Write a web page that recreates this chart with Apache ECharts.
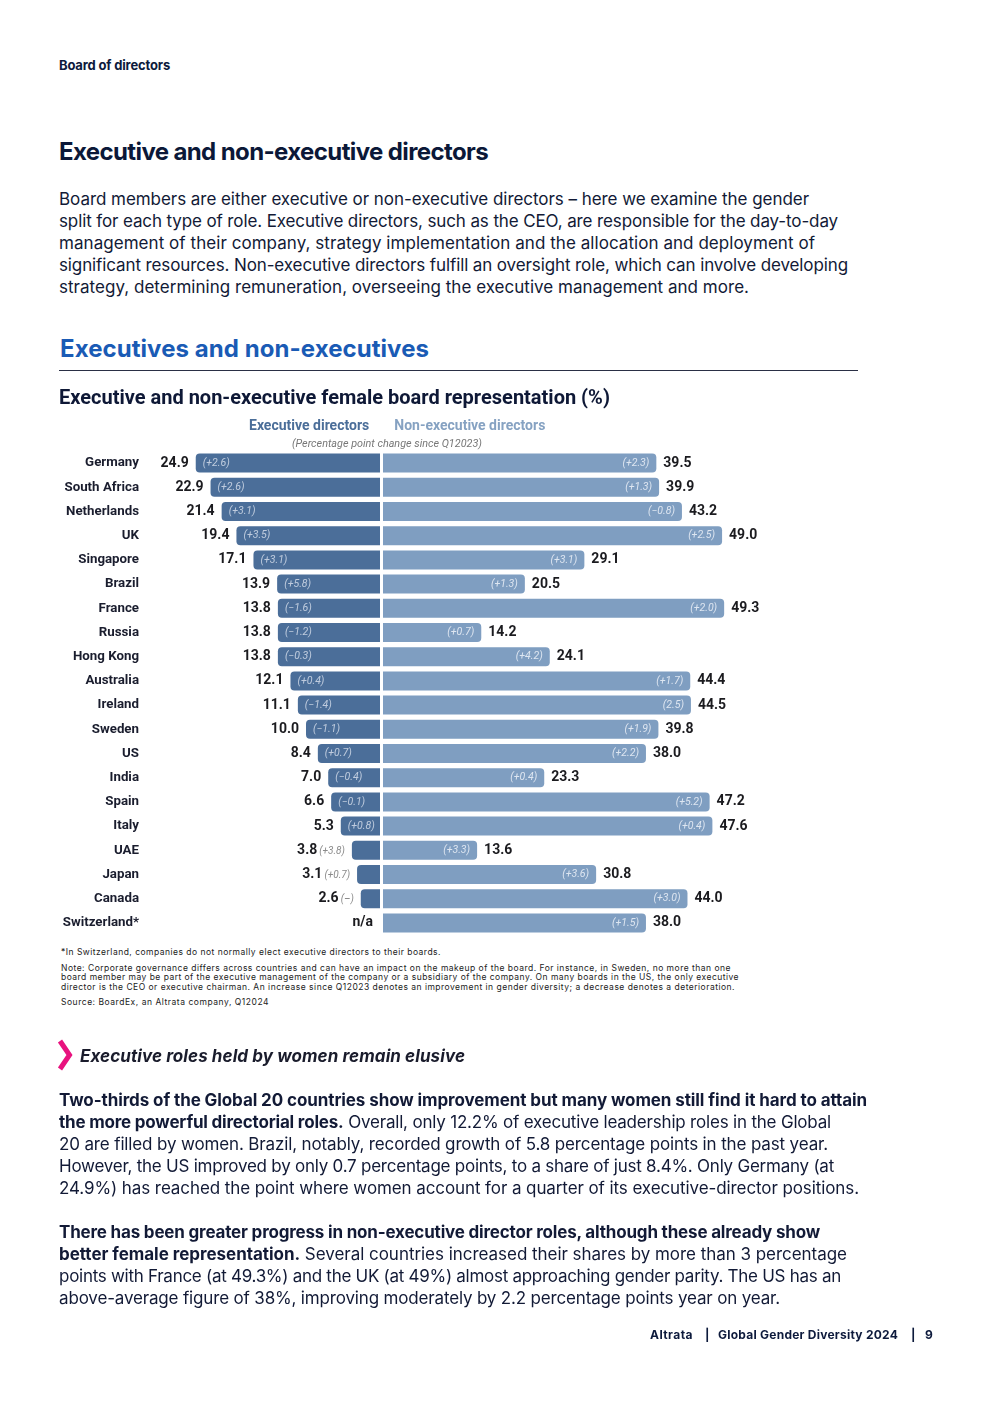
<!DOCTYPE html>
<html><head><meta charset="utf-8">
<script src="https://cdn.jsdelivr.net/npm/echarts@6/dist/echarts.min.js"></script>
<style>
html,body{margin:0;padding:0;background:#fff;}
#page{position:relative;width:992px;height:1403px;overflow:hidden;font-family:Inter,Roboto,'Noto Sans',sans-serif;color:#121a36;}
.t{position:absolute;white-space:nowrap;display:inline-block;}
#chart{position:absolute;left:0;top:380px;width:992px;height:565px;}
</style></head><body><div id="page">

<div class="t" data-x="59" data-y="65" data-w="111" data-s="13" style="font-weight:700;color:#0d1a3c">Board of directors</div>
<div class="t" data-x="59" data-y="152" data-w="429" data-s="24" style="font-weight:700;color:#0b1838">Executive and non-executive directors</div>

<div class="t" data-x="59" data-y="200" data-w="750" data-s="17">Board members are either executive or non-executive directors – here we examine the gender</div>
<div class="t" data-x="59" data-y="222" data-w="779" data-s="17">split for each type of role. Executive directors, such as the CEO, are responsible for the day-to-day</div>
<div class="t" data-x="59" data-y="244" data-w="756" data-s="17">management of their company, strategy implementation and the allocation and deployment of</div>
<div class="t" data-x="59" data-y="266" data-w="789" data-s="17">significant resources. Non-executive directors fulfill an oversight role, which can involve developing</div>
<div class="t" data-x="59" data-y="288" data-w="690" data-s="17">strategy, determining remuneration, overseeing the executive management and more.</div>

<div class="t" data-x="60" data-y="349" data-w="369" data-s="24" style="font-weight:700;color:#1a5bb5">Executives and non-executives</div>
<div style="position:absolute;left:59px;top:370px;width:799px;height:1px;background:#2a2f45"></div>

<div id="chart"></div>

<div class="t" data-x="61" data-y="952" data-w="380" data-s="8.5" style="color:#222">*In Switzerland, companies do not normally elect executive directors to their boards.</div>
<div class="t" data-x="61" data-y="968" data-w="670" data-s="8.5" style="color:#222">Note: Corporate governance differs across countries and can have an impact on the makeup of the board. For instance, in Sweden, no more than one</div>
<div class="t" data-x="61" data-y="977.5" data-w="678" data-s="8.5" style="color:#222">board member may be part of the executive management of the company or a subsidiary of the company. On many boards in the US, the only executive</div>
<div class="t" data-x="61" data-y="987" data-w="674" data-s="8.5" style="color:#222">director is the CEO or executive chairman. An increase since Q12023 denotes an improvement in gender diversity; a decrease denotes a deterioration.</div>
<div class="t" data-x="61" data-y="1002" data-w="208" data-s="8.5" style="color:#222">Source: BoardEx, an Altrata company, Q12024</div>

<svg style="position:absolute;left:0;top:0" width="992" height="1403"><polyline points="60,1041 69.5,1055 60,1069" fill="none" stroke="#e8137f" stroke-width="5"/></svg>
<div class="t" data-x="80" data-y="1057" data-w="385" data-s="17" style="font-weight:700;font-style:italic;color:#1a1c2c">Executive roles held by women remain elusive</div>

<div class="t" data-x="59" data-y="1101" data-w="808" data-s="17"><b>Two-thirds of the Global 20 countries show improvement but many women still find it hard to attain</b></div>
<div class="t" data-x="59" data-y="1123" data-w="772" data-s="17"><b>the more powerful directorial roles.</b> Overall, only 12.2% of executive leadership roles in the Global</div>
<div class="t" data-x="59" data-y="1145" data-w="769" data-s="17">20 are filled by women. Brazil, notably, recorded growth of 5.8 percentage points in the past year.</div>
<div class="t" data-x="59" data-y="1167" data-w="775" data-s="17">However, the US improved by only 0.7 percentage points, to a share of just 8.4%. Only Germany (at</div>
<div class="t" data-x="59" data-y="1189" data-w="800" data-s="17">24.9%) has reached the point where women account for a quarter of its executive-director positions.</div>

<div class="t" data-x="59" data-y="1233" data-w="761" data-s="17"><b>There has been greater progress in non-executive director roles, although these already show</b></div>
<div class="t" data-x="59" data-y="1255" data-w="788" data-s="17"><b>better female representation.</b> Several countries increased their shares by more than 3 percentage</div>
<div class="t" data-x="59" data-y="1277" data-w="782" data-s="17">points with France (at 49.3%) and the UK (at 49%) almost approaching gender parity. The US has an</div>
<div class="t" data-x="59" data-y="1299" data-w="721" data-s="17">above-average figure of 38%, improving moderately by 2.2 percentage points year on year.</div>

<div class="t" data-x="650" data-y="1334" data-w="43" data-s="12" style="font-weight:700;color:#0d1a3c">Altrata</div>
<div class="t" data-x="705" data-y="1334" data-s="12" style="font-weight:700;color:#0d1a3c">|</div>
<div class="t" data-x="718" data-y="1334" data-w="180" data-s="12" style="font-weight:700;color:#0d1a3c">Global Gender Diversity 2024</div>
<div class="t" data-x="911" data-y="1334" data-s="12" style="font-weight:700;color:#0d1a3c">|</div>
<div class="t" data-x="925" data-y="1334" data-w="8" data-s="12" style="font-weight:700;color:#0d1a3c">9</div>

</div>
<script>
// ---- data ----
const countries = ['Germany','South Africa','Netherlands','UK','Singapore','Brazil','France','Russia','Hong Kong','Australia','Ireland','Sweden','US','India','Spain','Italy','UAE','Japan','Canada','Switzerland*'];
const execValues = [24.9,22.9,21.4,19.4,17.1,13.9,13.8,13.8,13.8,12.1,11.1,10.0,8.4,7.0,6.6,5.3,3.8,3.1,2.6,null];
const execChange = ['+2.6','+2.6','+3.1','+3.5','+3.1','+5.8','\u22121.6','\u22121.2','\u22120.3','+0.4','\u22121.4','\u22121.1','+0.7','\u22120.4','\u22120.1','+0.8','+3.8','+0.7','\u2013',null];
const nonExecValues = [39.5,39.9,43.2,49.0,29.1,20.5,49.3,14.2,24.1,44.4,44.5,39.8,38.0,23.3,47.2,47.6,13.6,30.8,44.0,38.0];
const nonExecChange = ['+2.3','+1.3','\u22120.8','+2.5','+3.1','+1.3','+2.0','+0.7','+4.2','+1.7','2.5','+1.9','+2.2','+0.4','+5.2','+0.4','+3.3','+3.6','+3.0','+1.5'];
const seriesNames = ['Executive directors','Non-executive directors'];

// ---- text layout ----
function layoutText(){
  document.querySelectorAll('.t').forEach(el=>{
    const s = parseFloat(el.dataset.s);
    el.style.fontSize = s+'px';
    el.style.lineHeight = (s*1.25)+'px';
    el.style.left = el.dataset.x+'px';
    el.style.top = (parseFloat(el.dataset.y) - s*0.625)+'px';
    if(el.dataset.w){
      el.style.letterSpacing='0px';
      const w = el.getBoundingClientRect().width;
      const n = el.textContent.length;
      el.style.letterSpacing = ((parseFloat(el.dataset.w)-w)/n)+'px';
    }
  });
}
layoutText();
if(document.fonts && document.fonts.ready) document.fonts.ready.then(layoutText);

// ---- chart ----
const EXEC = '#4b6e99', NONEXEC = '#7f9ec1';
const FONT = 'Roboto';
const SMALL = 4;
const chart = echarts.init(document.getElementById('chart'), null, {renderer:'canvas'});
const fmt = v => v.toFixed(1);
const richStyles = {
  v:{fontSize:14,fontWeight:'bold',color:'#1b1b1f',fontFamily:FONT},
  c:{fontSize:10,fontStyle:'italic',color:'#8a8a8a',fontFamily:FONT,padding:[2,0,0,2]}
};
const execData = execValues.map((v,i)=> v===null ? {value:0} : v);
const option = {
  animation:false,
  textStyle:{fontFamily:FONT},
  title:[
    {text:'Executive and non-executive female board representation (%)', left:59, top:9, padding:0,
     textStyle:{fontSize:20,fontWeight:'bold',color:'#0e1836',fontFamily:FONT}},
    {text:'(Percentage point change since Q12023)', left:292, top:59, padding:0,
     textStyle:{fontSize:10.8,fontStyle:'italic',fontWeight:'normal',color:'#777',fontFamily:FONT}}
  ],
  legend:{
    data:[{name:seriesNames[0],textStyle:{color:'#4b6e99'}},{name:seriesNames[1],textStyle:{color:'#86a2c2'}}],
    left:244, top:39, icon:'none', itemWidth:0, itemHeight:14, itemGap:20, padding:0, selectedMode:false,
    textStyle:{fontSize:14,fontWeight:'bold',fontFamily:FONT}
  },
  grid:[
    {left:158, width:222, top:71, height:484, containLabel:false, outerBoundsMode:'none'},
    {left:383, width:346, top:71, height:484, containLabel:false, outerBoundsMode:'none'}
  ],
  xAxis:[
    {type:'value',gridIndex:0,min:0,max:30,inverse:true,show:false},
    {type:'value',gridIndex:1,min:0,max:50,show:false}
  ],
  yAxis:[
    {type:'category',gridIndex:0,data:countries,inverse:true,axisLine:{show:false},axisTick:{show:false},splitLine:{show:false},
     axisLabel:{margin:19,fontSize:13.3,fontWeight:'bold',color:'#1a1d2e',fontFamily:FONT}},
    {type:'category',gridIndex:1,data:countries,inverse:true,show:false}
  ],
  series:[
    {name:seriesNames[0],type:'bar',xAxisIndex:0,yAxisIndex:0,data:execData,barWidth:19,barGap:'-100%',
     itemStyle:{color:EXEC,borderRadius:[4,0,0,4]},
     label:{show:true,position:'left',distance:7,rich:richStyles,
       formatter:p=>{const v=execValues[p.dataIndex]; if(v===null) return '{v|n/a}';
         return v<SMALL ? '{v|'+fmt(v)+'}{c|('+execChange[p.dataIndex]+')}' : '{v|'+fmt(v)+'}';}}},
    {name:'execChange',type:'bar',xAxisIndex:0,yAxisIndex:0,data:execData,barWidth:19,barGap:'-100%',silent:true,
     itemStyle:{color:'rgba(0,0,0,0)'},
     label:{show:true,position:'insideLeft',distance:7,fontSize:10.5,fontStyle:'italic',color:'rgba(235,240,248,0.72)',
       formatter:p=>{const v=execValues[p.dataIndex]; return (v===null||v<SMALL)?'':'('+execChange[p.dataIndex]+')';}}},
    {name:seriesNames[1],type:'bar',xAxisIndex:1,yAxisIndex:1,data:nonExecValues,barWidth:19,barGap:'-100%',
     itemStyle:{color:NONEXEC,borderRadius:[0,4,4,0]},
     label:{show:true,position:'right',distance:7,fontSize:14,fontWeight:'bold',color:'#1b1b1f',
       formatter:p=>fmt(p.value)}},
    {name:'nonExecChange',type:'bar',xAxisIndex:1,yAxisIndex:1,data:nonExecValues,barWidth:19,barGap:'-100%',silent:true,
     itemStyle:{color:'rgba(0,0,0,0)'},
     label:{show:true,position:'insideRight',distance:7,fontSize:10.5,fontStyle:'italic',color:'rgba(245,248,252,0.8)',
       formatter:p=>'('+nonExecChange[p.dataIndex]+')'}}
  ]
};
chart.setOption(option);
</script>
</body></html>
